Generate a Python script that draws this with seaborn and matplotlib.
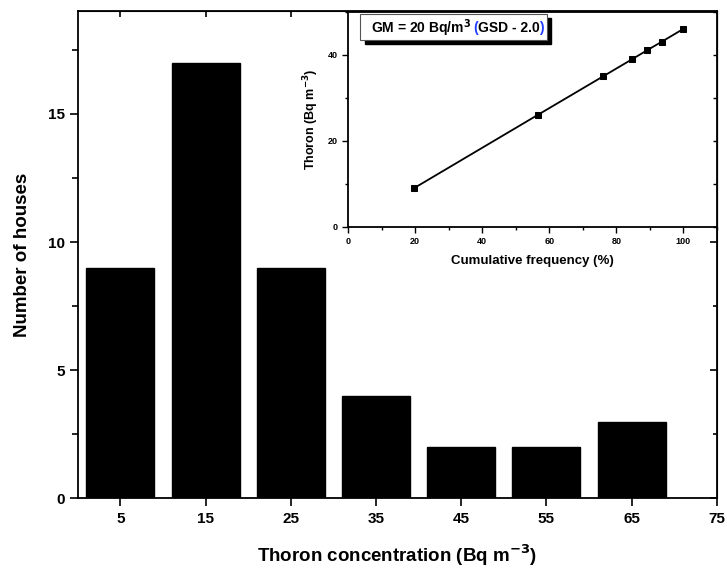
import matplotlib
matplotlib.use("Agg")
import matplotlib.pyplot as plt
from matplotlib.ticker import MultipleLocator
from matplotlib.patches import Rectangle
import seaborn as sns
import pandas as pd

# histogram of thoron concentration
concentration = [5, 15, 25, 35, 45, 55, 65]
houses = [9, 17, 9, 4, 2, 2, 3]

# inset: cumulative frequency plot
cum_freq = [19.6, 56.5, 76.1, 84.8, 89.1, 93.5, 100.0]
thoron = [9, 26, 35, 39, 41, 43, 46]

sns.set_style("ticks")
plt.rcParams['font.family'] = ['Liberation Sans', 'DejaVu Sans']
plt.rcParams['font.weight'] = 'bold'
plt.rcParams['mathtext.default'] = 'bf'
for k in ['text.color', 'axes.labelcolor', 'xtick.color', 'ytick.color', 'axes.edgecolor']:
    plt.rcParams[k] = 'black'

fig = plt.figure(figsize=(7.27, 5.71), dpi=100)
ax = fig.add_axes([0.107, 0.127, 0.879, 0.853])

df = pd.DataFrame({'conc': concentration, 'houses': houses})
sns.barplot(data=df, x='conc', y='houses', native_scale=True, color='black',
            saturation=1, width=0.8, edgecolor='black', ax=ax)
ax.set_xlim(0, 75)
ax.set_ylim(0, 19)
ax.set_xticks([5, 15, 25, 35, 45, 55, 65, 75])
ax.set_yticks([0, 5, 10, 15])
ax.yaxis.set_minor_locator(MultipleLocator(2.5))
ax.tick_params(axis='both', which='major', labelsize=11, length=6, width=1.2, direction='out')
ax.tick_params(axis='y', which='minor', length=4, width=1.2, direction='out')
for lab in ax.get_xticklabels() + ax.get_yticklabels():
    lab.set_fontweight('bold')
for s in ax.spines.values():
    s.set_linewidth(1.3)

# inward ticks on right and top edges
right = ax.secondary_yaxis('right')
right.set_yticks([0, 5, 10, 15])
right.yaxis.set_minor_locator(MultipleLocator(2.5))
right.tick_params(which='major', direction='in', length=5, width=1.2, labelright=False)
right.tick_params(which='minor', direction='in', length=3, width=1.2)
top = ax.secondary_xaxis('top')
top.set_xticks([5, 15, 25, 35, 45, 55, 65, 75])
top.tick_params(direction='in', length=4, width=1.2, labeltop=False)

ax.set_xlabel('Thoron concentration (Bq m$^{-3}$)', fontsize=13.5, fontweight='bold', labelpad=12)
ax.set_ylabel('Number of houses', fontsize=13.5, fontweight='bold', labelpad=12)

# inset
ins = fig.add_axes([0.479, 0.6025, 0.507, 0.377])
sns.lineplot(x=cum_freq, y=thoron, marker='s', markersize=5, color='black',
             linewidth=1.3, markeredgecolor='black', ax=ins)
ins.set_xlim(0, 110)
ins.set_ylim(0, 50)
ins.set_xticks([0, 20, 40, 60, 80, 100])
ins.set_yticks([0, 20, 40])
ins.xaxis.set_minor_locator(MultipleLocator(10))
ins.yaxis.set_minor_locator(MultipleLocator(10))
ins.tick_params(axis='both', which='major', labelsize=6.5, length=4, width=1)
ins.tick_params(axis='both', which='minor', length=2.5, width=1)
for lab in ins.get_xticklabels() + ins.get_yticklabels():
    lab.set_fontweight('bold')
for s in ins.spines.values():
    s.set_linewidth(1.3)
ins_r = ins.secondary_yaxis('right')
ins_r.set_yticks([0, 20, 40])
ins_r.yaxis.set_minor_locator(MultipleLocator(10))
ins_r.tick_params(which='both', direction='in', length=3, width=1, labelright=False)
ins.set_xlabel('Cumulative frequency (%)', fontsize=9.5, fontweight='bold', labelpad=6)
ins.set_ylabel('Thoron (Bq m$^{-3}$)', fontsize=9, fontweight='bold', labelpad=5)

# annotation box with shadow
bx, by, bw, bh = 0.033, 0.87, 0.505, 0.12
shadow = Rectangle((bx + 0.012, by - 0.02), bw, bh, transform=ins.transAxes,
                   facecolor='black', edgecolor='black', zorder=4)
box = Rectangle((bx, by), bw, bh, transform=ins.transAxes,
                facecolor='white', edgecolor='#555555', linewidth=0.8, zorder=5)
ins.add_patch(shadow)
ins.add_patch(box)
ty = by + bh / 2 - 0.005
fs = 10
t1 = ins.text(bx + 0.03, ty, 'GM = 20 Bq/m$^3$ ', transform=ins.transAxes, fontsize=fs,
              fontweight='bold', va='center', ha='left', zorder=6)
fig.canvas.draw()
bb = t1.get_window_extent().transformed(ins.transAxes.inverted())
t2 = ins.text(bb.x1, ty, '(', color='#1f3cff', transform=ins.transAxes, fontsize=fs,
              fontweight='bold', va='center', ha='left', zorder=6)
fig.canvas.draw()
bb2 = t2.get_window_extent().transformed(ins.transAxes.inverted())
t3 = ins.text(bb2.x1, ty, 'GSD - 2.0', transform=ins.transAxes, fontsize=fs,
              fontweight='bold', va='center', ha='left', zorder=6)
fig.canvas.draw()
bb3 = t3.get_window_extent().transformed(ins.transAxes.inverted())
ins.text(bb3.x1, ty, ')', color='#1f3cff', transform=ins.transAxes, fontsize=fs,
         fontweight='bold', va='center', ha='left', zorder=6)

fig.savefig('out.png', dpi=100)
